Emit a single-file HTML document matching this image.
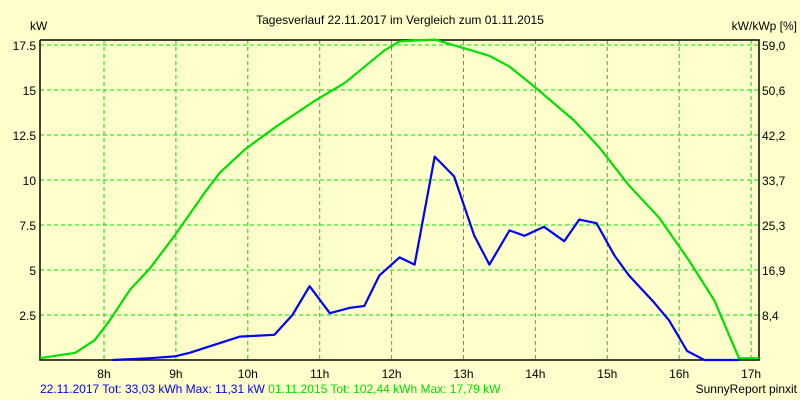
<!DOCTYPE html>
<html><head><meta charset="utf-8"><style>
html,body{margin:0;padding:0;background:#ffffcc;}
svg{display:block;font-family:"Liberation Sans",sans-serif;font-size:12px;}
</style></head><body>
<svg id="chart" width="800" height="400">
<rect x="0" y="0" width="800" height="400" fill="#ffffcc"/>
<text x="400" y="24" text-anchor="middle">Tagesverlauf 22.11.2017 im Vergleich zum 01.11.2015</text>
<text x="30" y="30">kW</text>
<text x="797" y="30" text-anchor="end">kW/kWp [%]</text>
<g id="grid"></g><g id="axes"></g><g id="series"></g>
<text x="40" y="393" fill="#0000ff">22.11.2017 Tot: 33,03 kWh Max: 11,31 kW <tspan fill="#00e000">01.11.2015 Tot: 102,44 kWh Max: 17,79 kW</tspan></text>
<text x="797" y="393" text-anchor="end">SunnyReport pinxit</text>
</svg>
<script>
const hourTicks=[8,9,10,11,12,13,14,15,16,17];
const kwTicks=[2.5,5,7.5,10,12.5,15,17.5];
const kwTickLabels=["2.5","5","7.5","10","12.5","15","17.5"];
const pctTickLabels=["8,4","16,9","25,3","33,7","42,2","50,6","59,0"];
const greenHours=[7.11,7.6,7.87,8.08,8.36,8.64,8.98,9.4,9.61,9.96,10.37,10.93,11.35,11.9,12.11,12.6,12.94,13.36,13.64,13.98,14.54,14.89,15.3,15.72,16.14,16.49,16.83,17.11];
const greenKw=[0.1,0.4,1.1,2.2,3.9,5.1,6.9,9.3,10.4,11.7,12.9,14.4,15.4,17.2,17.7,17.8,17.4,16.9,16.3,15.2,13.3,11.8,9.7,7.9,5.5,3.3,0.1,0.1];
const blueHours=[8.12,8.64,8.98,9.19,9.89,10.37,10.62,10.86,11.14,11.42,11.62,11.83,12.11,12.32,12.6,12.87,13.15,13.36,13.64,13.85,14.12,14.4,14.61,14.85,15.1,15.3,15.65,15.86,16.11,16.35,16.83];
const blueKw=[0,0.1,0.2,0.4,1.3,1.4,2.5,4.1,2.6,2.9,3.0,4.7,5.7,5.3,11.3,10.2,6.9,5.3,7.2,6.9,7.4,6.6,7.8,7.6,5.8,4.7,3.2,2.2,0.5,0,0];
const L=40,R=759,T=40,B=360,H0=7.11,H1=17.11,KMAX=17.78;
const xs=h=>L+(h-H0)/(H1-H0)*(R-L);
const ys=k=>B-k/KMAX*(B-T);
const NS="http://www.w3.org/2000/svg";
function mk(tag,parent,attrs){const e=document.createElementNS(NS,tag);for(const k in attrs)e.setAttribute(k,attrs[k]);parent.appendChild(e);return e;}
const grid=document.getElementById('grid'),axes=document.getElementById('axes'),ser=document.getElementById('series');
hourTicks.forEach((h,i)=>{const x=xs(h);
 const g=mk('line',grid,{x1:x,x2:x,y1:T,y2:B,stroke:'#00e000','stroke-dasharray':'4,3'});
 
 
 const t=mk('text',axes,{x:x,y:B+18,'text-anchor':'middle'});t.textContent=h+'h';
 
 
});
kwTicks.forEach((k,i)=>{const y=ys(k);
 const g=mk('line',grid,{x1:L,x2:R,y1:y,y2:y,stroke:'#00e000','stroke-dasharray':'4,3'});
 
 
 const t=mk('text',axes,{x:L-4,y:y+5,'text-anchor':'end'});t.textContent=kwTickLabels[i];
 
 
 const t2=mk('text',axes,{x:R+3,y:y+5});t2.textContent=pctTickLabels[i];
 
 
});
const ax=mk('path',axes,{d:`M${L},${T}V${B}H${R}V${T}H${L}`,fill:'none',stroke:'#000','stroke-width':1.5});


function line(hs,ks,color,name){const d=hs.map((h,i)=>(i?'L':'M')+xs(h).toFixed(1)+','+ys(ks[i]).toFixed(1)).join('');
 const p=mk('path',ser,{d:d,fill:'none',stroke:color,'stroke-width':2.2,'stroke-linejoin':'round'});
 
 }
line(greenHours,greenKw,'#00e000','series-2015-line');
line(blueHours,blueKw,'#0000ff','series-2017-line');
</script>
</body></html>
